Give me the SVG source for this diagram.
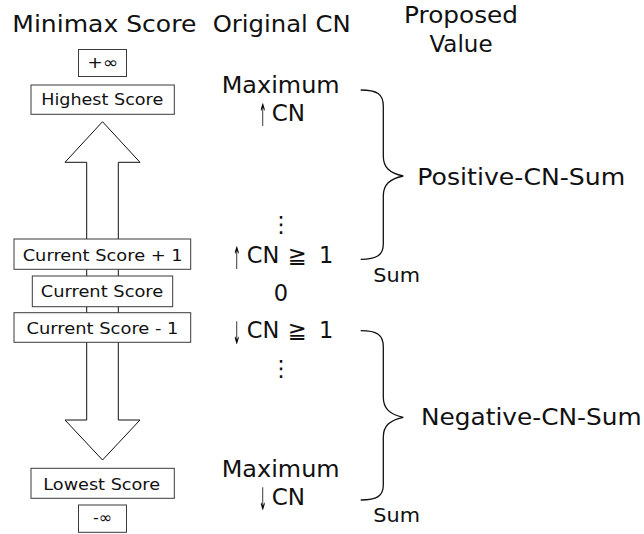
<svg xmlns="http://www.w3.org/2000/svg" width="644" height="534" viewBox="0 0 644 534">
  <style>
    text { font-family: "DejaVu Sans", Verdana, sans-serif; fill: #111; }
    .head { font-size: 23px; }
    .main { font-size: 22.5px; }
    .small { font-size: 19px; }
    .arrow { font-size: 22.5px; text-anchor: middle; fill: #000; }
    .box rect { fill: #fff; stroke: #3a3a3a; stroke-width: 1; }
    .box text { font-size: 16px; text-anchor: middle; }
    .block { fill: #fff; stroke: #111; stroke-width: 1; }
    .brace { fill: none; stroke: #111; stroke-width: 1.3; }
    .mid { text-anchor: middle; }
  </style>
  <defs>
    <!-- pass-through filter so the squeezed arrow glyphs are smoothed in grey -->
    <filter id="flat" x="0" y="0" width="1" height="1">
      <feOffset dx="0" dy="0"/>
    </filter>
  </defs>

  <!-- column headings -->
  <g id="headings">
    <text class="head" x="12.3" y="31.7" textLength="184" lengthAdjust="spacingAndGlyphs">Minimax Score</text>
    <text class="head" x="212.7" y="32" textLength="138" lengthAdjust="spacingAndGlyphs">Original CN</text>
    <text class="head" x="404" y="23.3" textLength="114" lengthAdjust="spacingAndGlyphs">Proposed</text>
    <text class="head mid" x="461" y="51.5">Value</text>
  </g>

  <!-- block arrows behind the score boxes -->
  <g id="connectors">
    <polygon class="block" points="102.5,121.7 140,162.3 118.3,162.3 118.3,291 86.7,291 86.7,162.3 65,162.3"/>
    <polygon class="block" points="86.7,291 118.3,291 118.3,420 140,420 102.5,460 65,420 86.7,420"/>
  </g>

  <!-- score boxes -->
  <g id="plus-infinity" class="box">
    <rect x="78.5" y="49.5" width="48" height="27"/>
    <text x="102.8" y="68.3" textLength="31" lengthAdjust="spacingAndGlyphs">+∞</text>
  </g>
  <g id="highest-score" class="box">
    <rect x="31" y="85" width="143.3" height="29.3"/>
    <text x="102.2" y="105" textLength="122" lengthAdjust="spacingAndGlyphs">Highest Score</text>
  </g>
  <g id="current-plus-one" class="box">
    <rect x="14" y="239" width="176.7" height="30.3"/>
    <text x="102.7" y="260.7" textLength="160" lengthAdjust="spacingAndGlyphs">Current Score + 1</text>
  </g>
  <g id="current-score" class="box">
    <rect x="32.3" y="276" width="140.4" height="30.7"/>
    <text x="102" y="297.3" textLength="122.6" lengthAdjust="spacingAndGlyphs">Current Score</text>
  </g>
  <g id="current-minus-one" class="box">
    <rect x="14" y="312.7" width="176.7" height="29.6"/>
    <text x="102.5" y="334" textLength="152" lengthAdjust="spacingAndGlyphs">Current Score - 1</text>
  </g>
  <g id="lowest-score" class="box">
    <rect x="31" y="468.3" width="143.3" height="30"/>
    <text x="101.7" y="490" textLength="116.7" lengthAdjust="spacingAndGlyphs">Lowest Score</text>
  </g>
  <g id="minus-infinity" class="box">
    <rect x="78.5" y="505" width="48" height="27.3"/>
    <text x="102.5" y="523.3">-∞</text>
  </g>

  <!-- original CN column; the thin arrows are squeezed arrow glyphs -->
  <g id="cn-values">
    <text class="main" x="221.7" y="93.3" textLength="118" lengthAdjust="spacingAndGlyphs">Maximum</text>
    <g filter="url(#flat)">
      <text class="arrow" transform="translate(262.7,125.5) scale(0.42,1.38)">↑</text>
      <text class="arrow" transform="translate(236.7,268.5) scale(0.42,1.38)">↑</text>
      <text class="arrow" transform="translate(236.7,343.5) scale(0.42,1.38)">↓</text>
      <text class="arrow" transform="translate(262.7,509.5) scale(0.42,1.38)">↓</text>
    </g>
    <text class="main" x="271.7" y="120.7" textLength="33.3" lengthAdjust="spacingAndGlyphs">CN</text>
    <text class="main mid" x="281" y="232">⋮</text>
    <text class="main" y="263.3"><tspan x="246.7">CN</tspan><tspan x="288">≧</tspan><tspan x="319">1</tspan></text>
    <text class="main mid" x="281" y="300.7">0</text>
    <text class="main" y="338.3"><tspan x="246.7">CN</tspan><tspan x="288">≧</tspan><tspan x="319">1</tspan></text>
    <text class="main mid" x="281" y="376">⋮</text>
    <text class="main" x="221.7" y="476.7" textLength="118" lengthAdjust="spacingAndGlyphs">Maximum</text>
    <text class="main" x="271.7" y="505" textLength="33.3" lengthAdjust="spacingAndGlyphs">CN</text>
  </g>

  <!-- proposed value braces -->
  <g id="positive-sum">
    <path class="brace" d="M360.7,90 C377,90 383.3,94 383.3,106 L383.3,156 C383.3,167 389,173 403.3,176 C389,179 383.3,185 383.3,196 L383.3,244 C383.3,255 377,259.3 360.7,259.3"/>
    <text class="main" x="417.3" y="185" textLength="208" lengthAdjust="spacingAndGlyphs">Positive-CN-Sum</text>
    <text class="small" x="373.3" y="281.7" textLength="46.7" lengthAdjust="spacingAndGlyphs">Sum</text>
  </g>
  <g id="negative-sum">
    <path class="brace" d="M360.7,330.7 C377,330.7 383.3,334.7 383.3,346.7 L383.3,397 C383.3,408 389,414.3 403.3,417.3 C389,420.3 383.3,426.3 383.3,437.3 L383.3,485 C383.3,496 377,500 360.7,500"/>
    <text class="main" x="421" y="425" textLength="220.7" lengthAdjust="spacingAndGlyphs">Negative-CN-Sum</text>
    <text class="small" x="373.3" y="521.7" textLength="46.7" lengthAdjust="spacingAndGlyphs">Sum</text>
  </g>
</svg>
